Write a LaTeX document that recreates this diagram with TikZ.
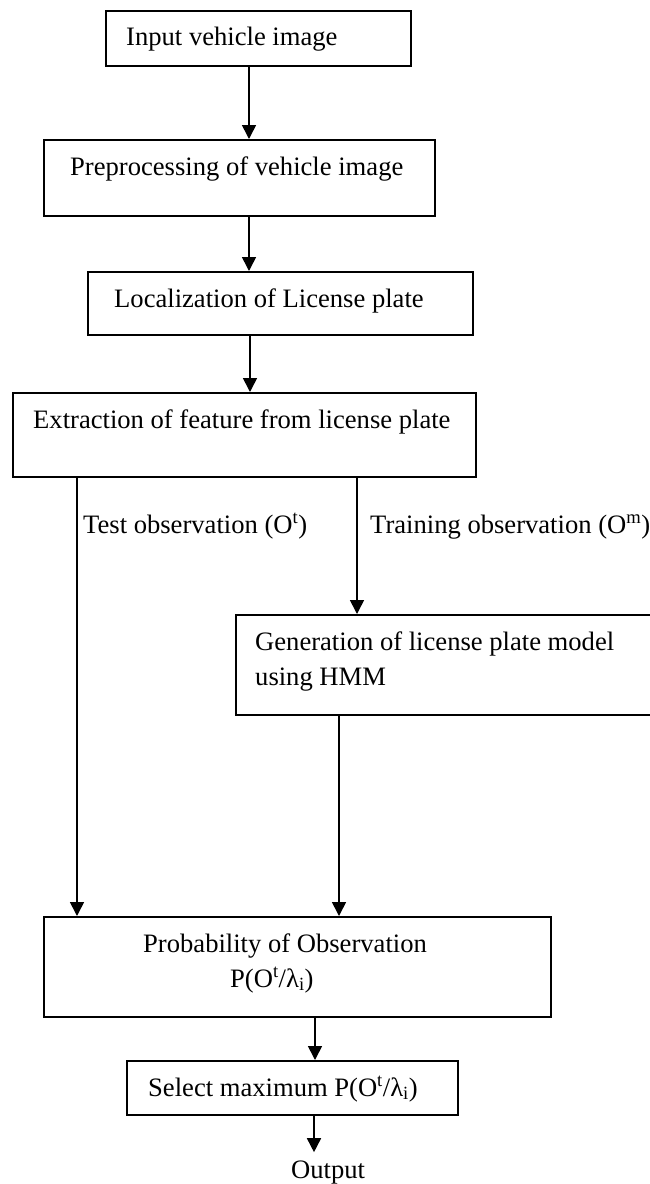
\documentclass[tikz,border=0pt]{standalone}
\usepackage{fontspec}
\setmainfont{Liberation Serif}
\usetikzlibrary{arrows.meta}
\begin{document}
\begin{tikzpicture}[x=1pt,y=-1pt,
  every node/.style={font=\fontsize{26.6pt}{32pt}\selectfont},
  box/.style={draw, line width=1.6pt, inner sep=0pt, anchor=north west},
  txt/.style={inner sep=0pt, anchor=base west},
  conn/.style={line width=1.6pt},
  arr/.style={line width=1.6pt, -{Triangle[length=14pt,width=14pt]}}]
\useasboundingbox (0,0) rectangle (649,1184);
% boxes
\node[box, minimum width=305pt, minimum height=55pt]  (inp)  at (105,10)  {};
\node[box, minimum width=391pt, minimum height=76pt]  (pre)  at (43,139)  {};
\node[box, minimum width=385pt, minimum height=63pt]  (loc)  at (87,271)  {};
\node[box, minimum width=463pt, minimum height=84pt]  (ext)  at (12,392)  {};
\node[box, minimum width=418pt, minimum height=100pt] (gen)  at (235,614) {};
\node[box, minimum width=507pt, minimum height=100pt] (prob) at (43,916)  {};
\node[box, minimum width=331pt, minimum height=54pt]  (sel)  at (126,1060) {};
% texts
\node[txt] (tinp) at (126,45)  {Input vehicle image};
\node[txt] (tpre) at (70,175)  {Preprocessing of vehicle image};
\node[txt] (tloc) at (114,307) {Localization of License plate};
\node[txt] (text) at (33,428)  {Extraction of feature from license plate};
\node[txt] (ttest) at (83,533) {Test observation (O\textsuperscript{t})};
\node[txt] (ttrain) at (370,533) {Training observation (O\textsuperscript{m})};
\node[txt] (tgen1) at (255,650) {Generation of license plate model};
\node[txt] (tgen2) at (255,685) {using HMM};
\node[txt] (tprob1) at (143,952) {Probability of Observation};
\node[txt] (tprob2) at (230,987) {P(O\textsuperscript{t}/λ\textsubscript{i})};
\node[txt] (tsel) at (148,1096) {Select maximum P(O\textsuperscript{t}/λ\textsubscript{i})};
\node[txt] (out) at (291,1178) {Output};
% x positions of the connectors
\coordinate (xa) at (249,0);
\coordinate (xb) at (250,0);
\coordinate (xl) at (77,0);
\coordinate (xr) at (357,0);
\coordinate (xg) at (339,0);
\coordinate (xp) at (315,0);
\coordinate (xo) at (314,0);
% connectors
\draw[arr] (inp.south -| xa) -- (pre.north -| xa);
\draw[arr] (pre.south -| xa) -- (loc.north -| xa);
\draw[arr] (loc.south -| xb) -- (ext.north -| xb);
\draw[arr] (ext.south -| xl) -- (prob.north -| xl);
\draw[arr] (ext.south -| xr) -- (gen.north -| xr);
\draw[arr] (gen.south -| xg) -- (prob.north -| xg);
\draw[arr] (prob.south -| xp) -- (sel.north -| xp);
\draw[arr, shorten >=8pt] (sel.south -| xo) -- (out.north -| xo);
\end{tikzpicture}
\end{document}
